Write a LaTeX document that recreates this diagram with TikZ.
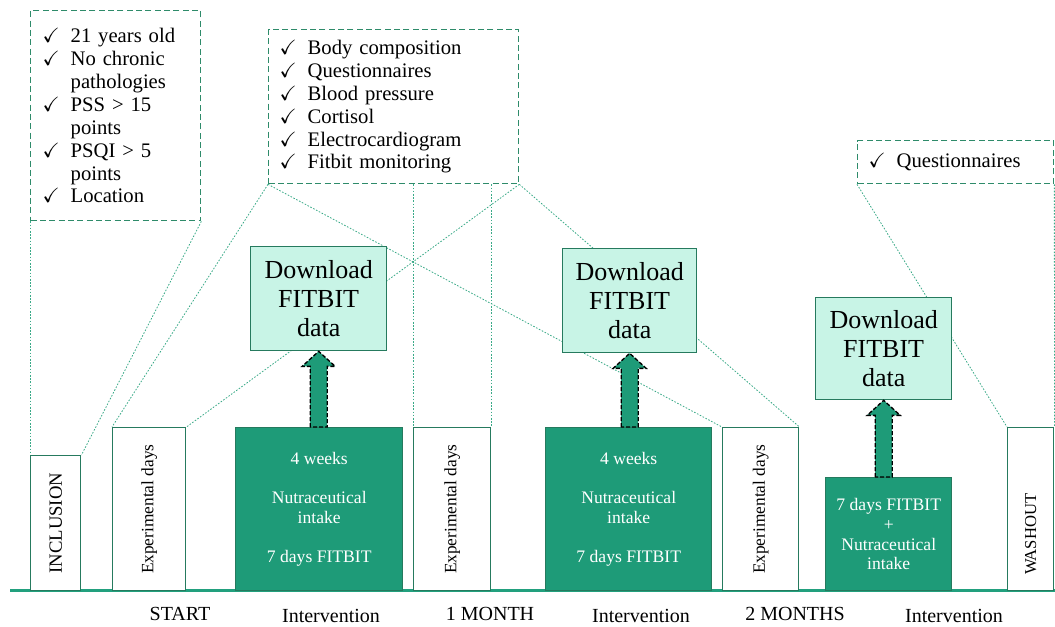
\documentclass[tikz,border=0pt]{standalone}
\usepackage{amssymb}
\usepackage{graphicx}
\usepackage{fontspec}
\setmainfont{Liberation Serif}
\usetikzlibrary{calc,backgrounds}

\definecolor{stagegreen}{HTML}{1E9B78}
\definecolor{stageedge}{HTML}{267A5E}
\definecolor{mintfill}{HTML}{C8F4E6}
\definecolor{dashgreen}{HTML}{2E8B6A}
\definecolor{dotgreen}{HTML}{3AAA88}
\definecolor{axisgreen}{HTML}{22A07E}

\newcommand{\tick}{\makebox[21pt][l]{$\checkmark$}}
\newcommand{\ind}{\hspace*{21pt}}

\tikzset{
  phase/.style={draw=stageedge, line width=1.1pt, fill=white, anchor=north west, inner sep=0pt, minimum height=122.25pt, font=\fontsize{13}{15}\selectfont},
  intake/.style={draw=stageedge, line width=1.1pt, fill=stagegreen, text=white, anchor=north west, inner sep=0pt, minimum height=122.25pt, align=center, font=\fontsize{13.2}{14.6}\selectfont},
  download/.style={draw=stageedge, line width=1pt, fill=mintfill, anchor=north west, inner sep=0pt, align=center, font=\fontsize{19.5}{22}\selectfont},
  checklist/.style={draw=dashgreen, line width=1pt, dash pattern=on 4.5pt off 2.5pt, anchor=north west, inner ysep=0pt, align=left, font=\fontsize{15.5}{17.2}\selectfont},
  link/.style={draw=dotgreen, line width=0.6pt, dash pattern=on 1.2pt off 1.2pt},
  pushup/.style={draw=black, line width=1pt, dash pattern=on 3pt off 1.5pt, fill=stagegreen},
  stamp/.style={anchor=base, font=\fontsize{15}{17}\selectfont}
}

\begin{document}
\begin{tikzpicture}[x=0.75pt, y=-0.75pt]
\useasboundingbox (0,0) rectangle (1055,627);

% check lists
\node[checklist, inner xsep=9pt, text width=109.5pt, minimum height=157.5pt] (crit) at (30,10)
  {\tick 21 years old\\ \tick No chronic\\ \ind pathologies\\ \tick PSS > 15\\ \ind points\\ \tick PSQI > 5\\ \ind points\\ \tick Location};
\node[checklist, inner xsep=8.25pt, text width=171pt, minimum height=115.5pt] (meas) at (268,29)
  {\tick Body composition\\ \tick Questionnaires\\ \tick Blood pressure\\ \tick Cortisol\\ \tick Electrocardiogram\\ \tick Fitbit monitoring};
\node[checklist, inner xsep=8.25pt, text width=130.5pt, minimum height=32.25pt] (quest) at (857,140)
  {\tick Questionnaires};

% timeline stages
\node[phase, minimum width=37.5pt, minimum height=101.25pt, font=\fontsize{14}{16}\selectfont] (incl) at (30,455) {\rotatebox{90}{INCLUSION}};
\node[phase, minimum width=54.75pt] (exp1) at (112,427) {\rotatebox{90}{Experimental days}};
\node[intake, minimum width=125.25pt] (int1) at (235,427) {4 weeks\\[14.6pt]Nutraceutical\\intake\\[14.6pt]7 days FITBIT};
\node[phase, minimum width=57.75pt] (exp2) at (413,427) {\rotatebox{90}{Experimental days}};
\node[intake, minimum width=124.5pt] (int2) at (545,427) {4 weeks\\[14.6pt]Nutraceutical\\intake\\[14.6pt]7 days FITBIT};
\node[phase, minimum width=57pt] (exp3) at (722,427) {\rotatebox{90}{Experimental days}};
\node[intake, minimum width=94.5pt, minimum height=84.75pt, font=\fontsize{13.2}{14.8}\selectfont] (int3) at (825,477) {7 days FITBIT\\+\\Nutraceutical\\intake};
\node[phase, minimum width=34.5pt, font=\fontsize{12.5}{15}\selectfont] (wash) at (1007,427) {\rotatebox{90}{WASHOUT\hspace*{37.5pt}}};

% fitbit downloads
\node[download, minimum width=102pt, minimum height=78pt] (dl1) at (250,246) {Download\\FITBIT\\data};
\node[download, minimum width=100.5pt, minimum height=78pt] (dl2) at (562,248) {Download\\FITBIT\\data};
\node[download, minimum width=102pt, minimum height=76.5pt] (dl3) at (815,297) {Download\\FITBIT\\data};

\foreach \src/\dst in {int1/dl1, int2/dl2, int3/dl3}
  \draw[pushup] ($(\dst.south |- \src.north)+(-8.5,0)$) -- ($(\dst.south)+(-8.5,15)$)
    -- ($(\dst.south)+(-16.5,15)$) -- (\dst.south) -- ($(\dst.south)+(16.5,15)$)
    -- ($(\dst.south)+(8.5,15)$) -- ($(\dst.south |- \src.north)+(8.5,0)$) -- cycle;

% time labels
\node[stamp] (start) at (180,620) {START};
\node[stamp] (iv1) at (331,622) {Intervention};
\node[stamp] (month1) at (490,620) {1 MONTH};
\node[stamp] (iv2) at (641,622) {Intervention};
\node[stamp] (month2) at (795,620) {2 MONTHS};
\node[stamp] (iv3) at (954,622) {Intervention};

\begin{scope}[on background layer]
  \draw[link] (crit.south west) -- (incl.north west);
  \draw[link] (crit.south east) -- (incl.north east);
  \draw[link] (meas.south west) -- (exp1.north west);
  \draw[link] (meas.south east) -- (exp1.north east);
  \draw[link] (exp2.north west |- meas.south) -- (exp2.north west);
  \draw[link] (exp2.north east |- meas.south) -- (exp2.north east);
  \draw[link] (meas.south west) -- (exp3.north west);
  \draw[link] (meas.south east) -- (exp3.north east);
  \draw[link] (quest.south west) -- (wash.north west);
  \draw[link] (quest.south east) -- (wash.north east);
  \draw[axisgreen, line width=2.25pt] (10,590) -- (1055,590);
\end{scope}
\end{tikzpicture}
\end{document}
